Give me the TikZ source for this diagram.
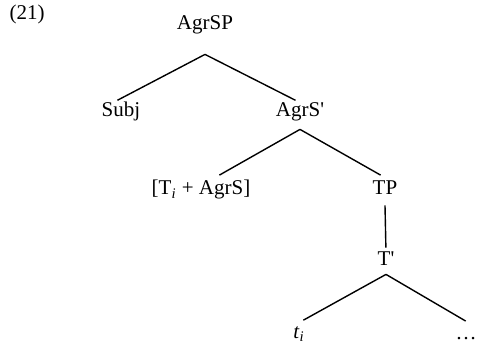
\documentclass[tikz,border=0pt]{standalone}
\usepackage{fontspec}
\setmainfont{Liberation Serif}
\begin{document}
\begin{tikzpicture}[x=0.5pt,y=-0.5pt,
    every node/.style={inner sep=0pt,text height=7pt,text depth=2pt,font=\fontsize{10.5}{12}\selectfont}]
      \useasboundingbox (0,0) rectangle (477,342);
      \draw
        (27,15) node (ex){(21)}
        (205,25) node (AgrSP){AgrSP}
        (121,112) node (Subj){Subj}
        (300,112) node (AgrSbar){AgrS\textquotesingle}
        (201,190) node (TAgrS){[T\textsubscript{\itshape i} + AgrS]}
        (385,190) node (TP){TP}
        (386,260) node (Tbar){T\textquotesingle}
        (299,333) node (ti){\textit{t}\textsubscript{\itshape i}}
        (466,334) node (dots){\dots};
      \begin{scope}[-,line width=0.7pt,shorten >=2.5pt]
        \draw ([yshift=-10pt]AgrSP.south) to ([xshift=-4pt]Subj.north);
        \draw ([yshift=-10pt]AgrSP.south) to (AgrSbar.north);
        \draw ([yshift=-4pt]AgrSbar.south) to ([xshift=7pt,yshift=1.5pt]TAgrS.north);
        \draw ([yshift=-4pt]AgrSbar.south) to ([yshift=1.5pt]TP.north);
        \draw ([yshift=-3pt]TP.south) to ([yshift=-1pt]Tbar.north);
        \draw ([yshift=-2.5pt]Tbar.south) to ([yshift=0.5pt]ti.north);
        \draw ([yshift=-2.5pt]Tbar.south) to ([xshift=2pt,yshift=0.5pt]dots.north);
      \end{scope}
    \end{tikzpicture}
\end{document}
